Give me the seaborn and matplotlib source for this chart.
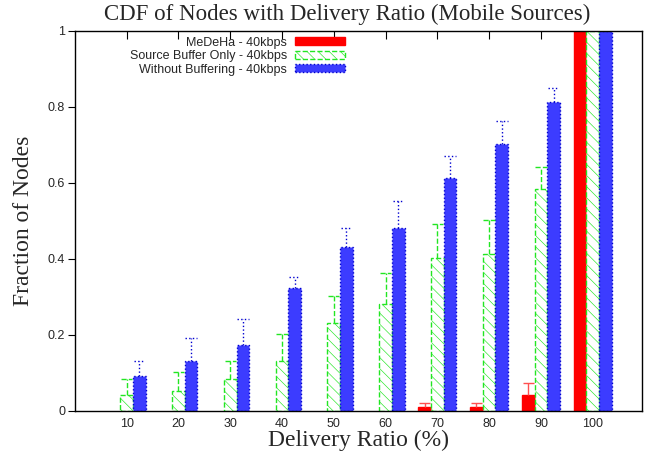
import numpy as np
import pandas as pd
import seaborn as sns
import matplotlib.pyplot as plt
from matplotlib.patches import Patch

# data
ratios = ["10", "20", "30", "40", "50", "60", "70", "80", "90", "100"]
series = ["MeDeHa - 40kbps", "Source Buffer Only - 40kbps", "Without Buffering - 40kbps"]

medeha = [0, 0, 0, 0, 0, 0, 0.01, 0.011, 0.042, 1.0]
medeha_top = [0, 0, 0, 0, 0, 0, 0.022, 0.022, 0.073, 1.0]

source_buf = [0.042, 0.053, 0.083, 0.132, 0.232, 0.282, 0.402, 0.412, 0.583, 1.0]
source_buf_top = [0.083, 0.102, 0.132, 0.202, 0.303, 0.362, 0.491, 0.503, 0.643, 1.0]

no_buf = [0.092, 0.132, 0.173, 0.323, 0.432, 0.482, 0.612, 0.703, 0.814, 1.0]
no_buf_top = [0.131, 0.193, 0.242, 0.352, 0.482, 0.553, 0.672, 0.763, 0.851, 1.0]

colors = {series[0]: "#ff0000", series[1]: "#ffffff", series[2]: "#3c3cff"}

df = pd.DataFrame({
    "ratio": ratios * 3,
    "series": [series[0]] * 10 + [series[1]] * 10 + [series[2]] * 10,
    "value": medeha + source_buf + no_buf,
})

sns.set_style("white")
plt.rcParams["font.family"] = ["Liberation Sans", "DejaVu Sans"]
plt.rcParams["hatch.linewidth"] = 0.45

fig = plt.figure(figsize=(6.51, 4.59), dpi=100)
ax = fig.add_axes([0.115, 0.1046, 0.871, 0.828])

sns.barplot(data=df, x="ratio", y="value", hue="series", order=ratios,
            hue_order=series, palette=colors, width=0.735, dodge=True,
            legend=False, ax=ax, saturation=1)

# style each series like the gnuplot original
styles = [
    dict(fc="#ff0000", ec="#ff0000", ls="-", hatch=None, err="#ff5050", els="-"),
    dict(fc="#ffffff", ec="#22e622", ls="--", hatch="\\\\\\", err="#22e622", els="--"),
    dict(fc="#3c3cff", ec="#0000d0", ls=":", hatch=None, err="#0000d0", els=":"),
]
tops = [medeha_top, source_buf_top, no_buf_top]
vals = [medeha, source_buf, no_buf]

for k, cont in enumerate(ax.containers):
    st = styles[k]
    for i, p in enumerate(cont.patches):
        p.set_facecolor(st["fc"])
        p.set_edgecolor(st["ec"])
        p.set_linestyle(st["ls"])
        p.set_linewidth(1.0 if vals[k][i] > 0 else 0)
        if st["hatch"]:
            p.set_hatch(st["hatch"])
        top = tops[k][i]
        v = vals[k][i]
        if top > v:
            xc = p.get_x() + p.get_width() / 2
            hw = p.get_width() * 0.45
            ax.vlines(xc, v, top, colors=st["err"], linestyles=st["els"], lw=1.0, zorder=3)
            ax.hlines(top, xc - hw, xc + hw, colors=st["err"], linestyles=st["els"], lw=1.0, zorder=3)

ax.set_xlim(-1.0, 9.95)
ax.set_ylim(0, 1)
ax.set_yticks([0, 0.2, 0.4, 0.6, 0.8, 1.0])
ax.set_yticklabels(["0", "0.2", "0.4", "0.6", "0.8", "1"])

for s in ax.spines.values():
    s.set_color("black")
    s.set_linewidth(1.0)
    s.set_visible(True)

ax.set_axisbelow(True)
ax.tick_params(axis="x", direction="in", top=True, bottom=False, length=6,
               labelsize=9, pad=5, color="black")
ax.tick_params(axis="y", direction="out", left=True, right=False, length=5,
               labelsize=9, pad=2, color="black")

ax.set_xlabel("Delivery Ratio (%)", family="Liberation Serif", fontsize=17, labelpad=0)
ax.set_ylabel("Fraction of Nodes", family="Liberation Serif", fontsize=17)
ax.yaxis.set_label_coords(-0.072, 0.5)
ax.set_title("CDF of Nodes with Delivery Ratio (Mobile Sources)",
             family="Liberation Serif", fontsize=16.5, x=0.48, pad=8)

handles = []
for k, name in enumerate(series):
    st = styles[k]
    handles.append(Patch(facecolor=st["fc"], edgecolor=st["ec"], linestyle=st["ls"],
                         hatch=st["hatch"], label=name))
ax.legend(handles=handles, loc="upper right", bbox_to_anchor=(0.476, 0.985),
          frameon=False, markerfirst=False, fontsize=9, handlelength=4.0,
          handleheight=0.6, labelspacing=0.12, handletextpad=0.6, borderpad=0,
          borderaxespad=0)

fig.savefig("out.png", dpi=100)
